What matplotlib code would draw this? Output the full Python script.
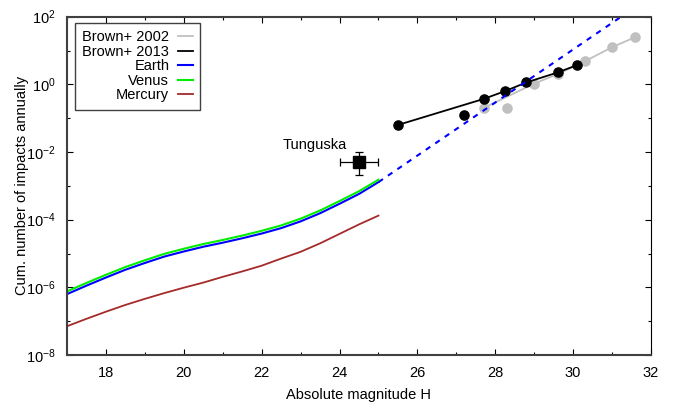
import numpy as np
import matplotlib.pyplot as plt
from matplotlib.ticker import FixedLocator, NullFormatter

plt.rcParams['font.family'] = ['Liberation Sans', 'DejaVu Sans']
plt.rcParams['mathtext.default'] = 'regular'

# model curves, log10 of cumulative impacts per year
h_model = [17.0, 17.5, 18.0, 18.5, 19.0, 19.5, 20.0, 20.5, 21.0,
           21.5, 22.0, 22.5, 23.0, 23.5, 24.0, 24.5, 25.0]
earth_log = [-6.20, -5.95, -5.71, -5.48, -5.28, -5.09, -4.94, -4.80, -4.68,
             -4.55, -4.41, -4.25, -4.05, -3.81, -3.53, -3.24, -2.89]
venus_log = [-6.12, -5.87, -5.63, -5.40, -5.20, -5.01, -4.86, -4.72, -4.60,
             -4.47, -4.33, -4.17, -3.97, -3.73, -3.45, -3.16, -2.82]
mercury_log = [-7.15, -6.93, -6.72, -6.52, -6.34, -6.17, -6.01, -5.86, -5.69,
               -5.53, -5.36, -5.15, -4.95, -4.70, -4.42, -4.14, -3.88]

# dashed extension of the Earth curve
h_ext = [25.0, 32.0]
earth_ext_log = [-2.89, 2.6]

# Brown+ 2002
h_b02 = [27.7, 28.3, 29.0, 29.6, 30.3, 31.0, 31.6]
n_b02 = [0.2, 0.2, 1.05, 2.0, 4.8, 12.5, 25.0]
b02_line = [0, 2, 3, 4, 5, 6]   # 28.3 point is not on the line

# Brown+ 2013
h_b13 = [25.5, 27.2, 27.7, 28.25, 28.8, 29.6, 30.1]
n_b13 = [0.063, 0.126, 0.37, 0.63, 1.14, 2.24, 3.7]
b13_line = [0, 2, 3, 4, 5, 6]   # 27.2 point is not on the line

# Tunguska
tung_h, tung_n = 24.5, 4.9e-3
tung_herr = 0.5
tung_nlo, tung_nhi = 2.1e-3, 1.0e-2

fig = plt.figure(figsize=(6.76, 4.03), dpi=100)
ax = fig.add_axes([0.0991, 0.1191, 0.8639, 0.8395])

h_b02 = np.array(h_b02); n_b02 = np.array(n_b02)
h_b13 = np.array(h_b13); n_b13 = np.array(n_b13)

ax.plot(h_b02[b02_line], n_b02[b02_line], color='#c0c0c0', lw=1.3, label='Brown+ 2002')
ax.plot(h_b02, n_b02, 'o', color='#c0c0c0', ms=6.6, ls='none')
ax.plot(h_b13[b13_line], n_b13[b13_line], color='black', lw=1.3, label='Brown+ 2013')
ax.plot(h_b13, n_b13, 'o', color='black', ms=6.6, ls='none')

ax.plot(h_model, 10**np.array(earth_log), color='#0000ff', lw=1.5, label='Earth')
ax.plot(h_ext, 10**np.array(earth_ext_log), color='#0000ff', lw=1.5, ls=(0, (2.6, 2.9)))
ax.plot(h_model, 10**np.array(venus_log), color='#00ee00', lw=1.5, label='Venus')
ax.plot(h_model, 10**np.array(mercury_log), color='#a52a2a', lw=1.3, label='Mercury')

ax.errorbar([tung_h], [tung_n], xerr=[[tung_herr], [tung_herr]],
            yerr=[[tung_n - tung_nlo], [tung_nhi - tung_n]],
            fmt='s', color='black', ms=8, elinewidth=0.9, capsize=3, capthick=0.9)
ax.text(23.37, 0.016, 'Tunguska', ha='center', va='center', fontsize=10.5)

ax.set_yscale('log')
ax.set_xlim(17, 32)
ax.set_ylim(1e-8, 1e2)
ax.xaxis.set_major_locator(FixedLocator([18, 20, 22, 24, 26, 28, 30, 32]))
ax.xaxis.set_minor_locator(FixedLocator([17, 19, 21, 23, 25, 27, 29, 31]))
yexp = [-8, -6, -4, -2, 0, 2]
ax.yaxis.set_major_locator(FixedLocator([10.0**e for e in yexp]))
ax.set_yticklabels([r'$10^{%d}$' % e for e in yexp])
ax.yaxis.set_minor_locator(FixedLocator([10.0**e for e in [-7, -5, -3, -1, 1]]))
ax.yaxis.set_minor_formatter(NullFormatter())

ax.tick_params(which='both', direction='in', top=True, right=True, labelsize=10.5, width=0.8)
ax.tick_params(which='major', length=4.5, pad=8)
ax.tick_params(which='minor', length=2.5)

for s in ['left', 'bottom', 'top']:
    ax.spines[s].set_color('#404040')
    ax.spines[s].set_linewidth(1.5)
ax.spines['right'].set_color('black')
ax.spines['right'].set_linewidth(0.8)

ax.set_xlabel('Absolute magnitude H', fontsize=10.5, labelpad=6)
ax.set_ylabel('Cum. number of impacts annually', fontsize=10.5)
ax.yaxis.set_label_coords(-0.065, 0.5)

leg = ax.legend(loc='upper left', bbox_to_anchor=(0.0137, 0.982), borderaxespad=0,
                markerfirst=False, fontsize=10.5, fancybox=False, framealpha=1,
                edgecolor='#404040', handlelength=1.0, handletextpad=0.6,
                labelspacing=0.04, borderpad=0.5)
leg.get_frame().set_linewidth(1.0)

fig.savefig('out.png', dpi=100)
